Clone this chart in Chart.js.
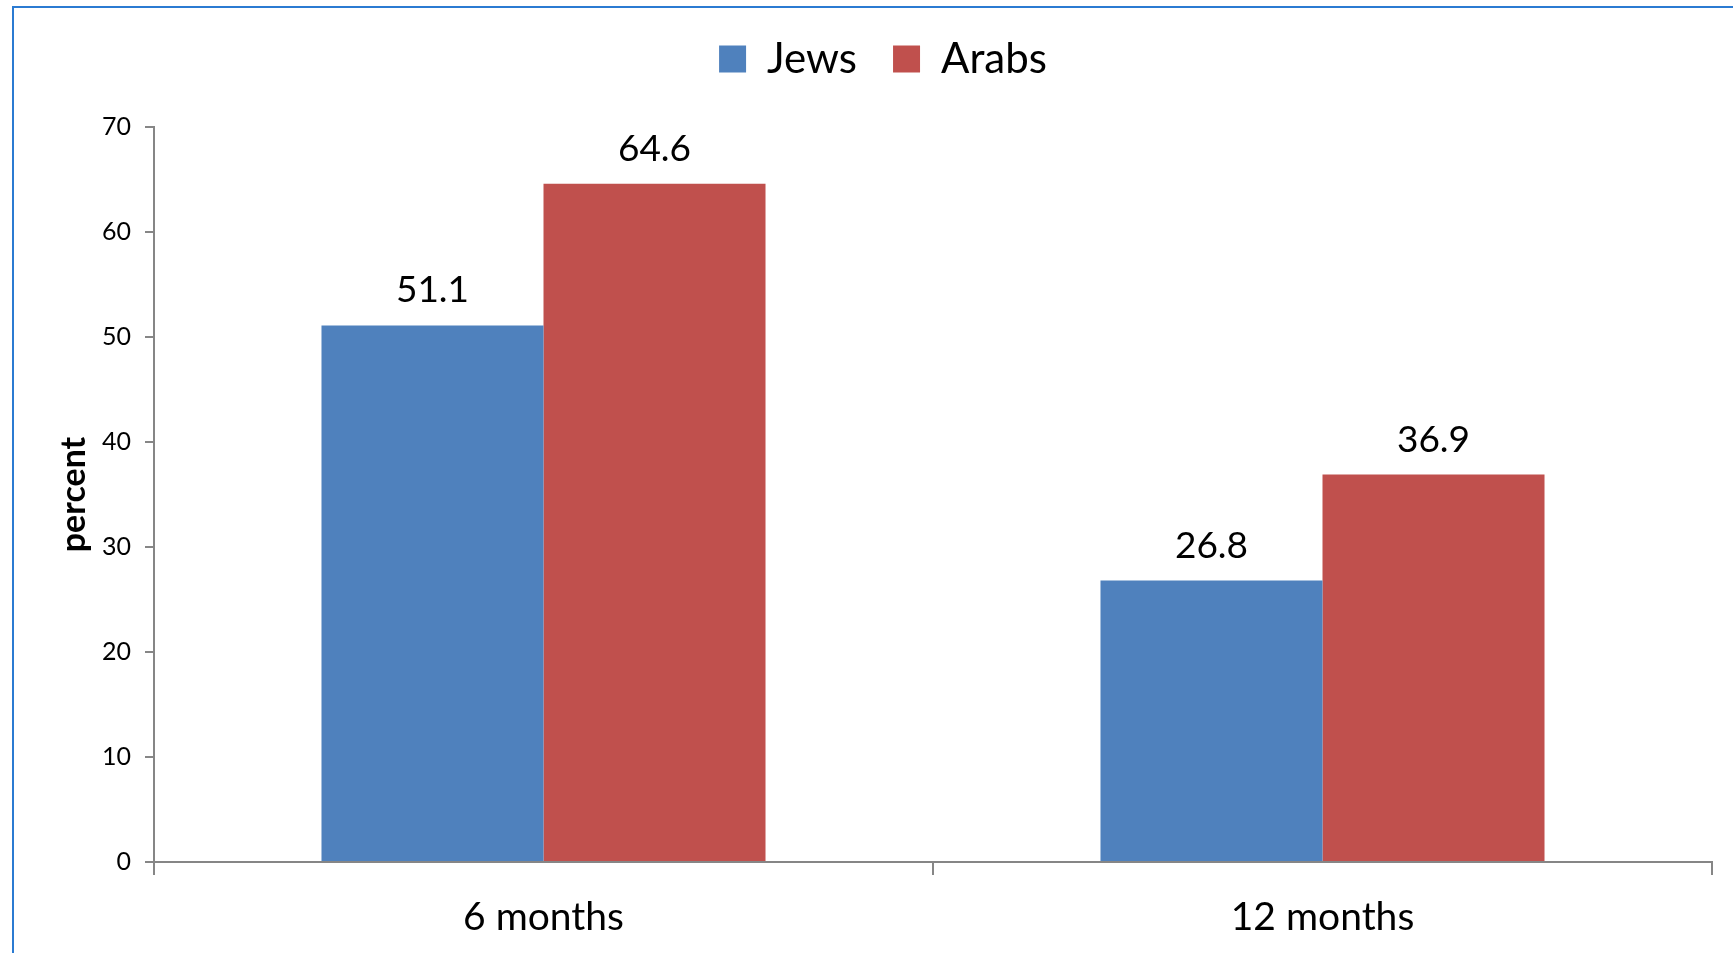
<!DOCTYPE html>
<html>
<head>
<meta charset="utf-8">
<title>Jews vs Arabs</title>
<script src="https://cdn.jsdelivr.net/npm/chart.js@4.4.1/dist/chart.umd.min.js"></script>
<style>
	body { margin:0; background:#fff; overflow:hidden; }
	#wrap { position:relative; width:1733px; height:953px; }
	#frame { position:absolute; left:12px; top:6px; width:1800px; height:1000px; border-left:2px solid #2b7bd2; border-top:2px solid #2b7bd2; }
	#chartContainer { position:absolute; left:0; top:0; }
</style>
</head>
<body>
<div id="wrap">
	<div id="frame"></div>
	<canvas id="chartContainer" width="1733" height="953"></canvas>
</div>
<script>
var categories = ['6 months', '12 months'];
var jews = [51.1, 26.8];
var arabs = [64.6, 36.9];
var yTicks = [0, 10, 20, 30, 40, 50, 60, 70];

// values over the bars
var barValues = {
	id: 'barValues',
	afterDatasetsDraw: function (chart) {
		var ctx = chart.ctx;
		ctx.save();
		ctx.font = '37px Lato';
		ctx.fillStyle = '#000';
		ctx.textAlign = 'center';
		ctx.textBaseline = 'alphabetic';
		chart.data.datasets.forEach(function (ds, i) {
			chart.getDatasetMeta(i).data.forEach(function (bar, j) {
				ctx.fillText(ds.data[j].toFixed(1), bar.x, bar.y - 23);
			});
		});
		ctx.restore();
	}
};

// push the plot down under the legend
var legendSpace = {
	id: 'legendSpace',
	beforeInit: function (chart) {
		var fit = chart.legend.fit;
		chart.legend.fit = function () {
			fit.bind(chart.legend)();
			this.height += 37;
		};
	}
};

window.onload = function () {
	var myChart = document.getElementById('chartContainer').getContext('2d');

	var popChart = new Chart(myChart, {
		type: 'bar',
		data: {
			labels: categories,
			datasets: [{
				label: 'Jews',
				data: jews,
				backgroundColor: '#4f81bd'
			}, {
				label: 'Arabs',
				data: arabs,
				backgroundColor: '#c0504d'
			}]
		},
		options: {
			responsive: false,
			animation: false,
			layout: { padding: { top: 2, left: 54, right: 21, bottom: 0 } },
			datasets: { bar: { categoryPercentage: 0.57, barPercentage: 1.0 } },
			plugins: {
				legend: {
					position: 'top',
					labels: {
						boxWidth: 27,
						boxHeight: 27,
						padding: 36,
						color: '#000',
						font: { family: 'Lato', size: 42 }
					}
				},
				tooltip: { enabled: false }
			},
			scales: {
				x: {
					grid: { display: true, drawOnChartArea: false, tickLength: 13, color: '#868686', lineWidth: 2 },
					border: { display: true, color: '#868686', width: 2 },
					ticks: { color: '#000', padding: 19, font: { family: 'Lato', size: 39 } },
					afterFit: function (scale) { scale.height = 91; }
				},
				y: {
					min: 0,
					max: 70,
					afterBuildTicks: function (scale) {
						scale.ticks = yTicks.map(function (v) { return { value: v }; });
					},
					grid: { display: true, drawOnChartArea: false, tickLength: 9, color: '#868686', lineWidth: 2 },
					border: { display: true, color: '#868686', width: 2 },
					ticks: { color: '#000', padding: 14, font: { family: 'Lato', size: 25 } },
					title: {
						display: true,
						text: 'percent',
						color: '#000',
						padding: { top: 0, bottom: 0 },
						font: { family: 'Lato', size: 34, weight: 'bold' }
					},
					afterFit: function (scale) { scale.width = 100; }
				}
			}
		},
		plugins: [barValues, legendSpace]
	});
};
</script>
</body>
</html>
